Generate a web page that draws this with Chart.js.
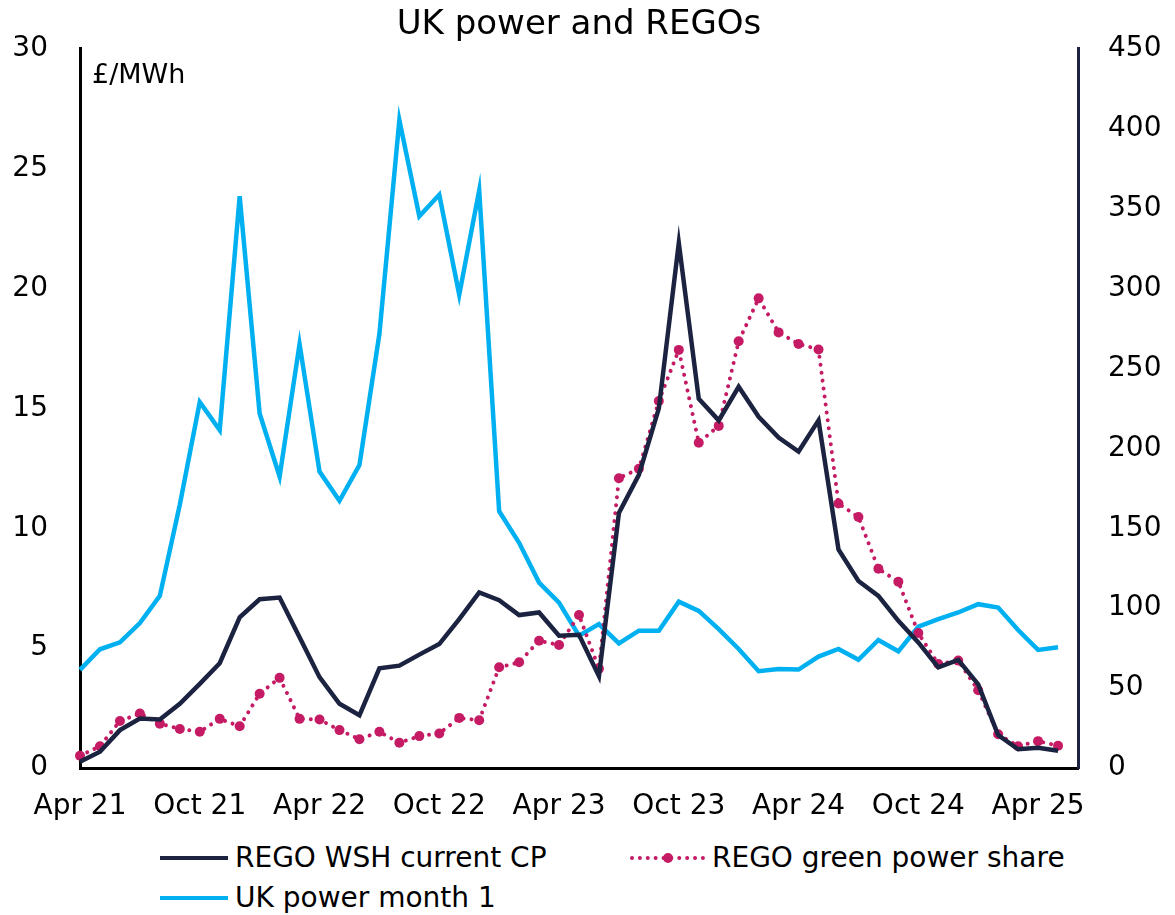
<!DOCTYPE html>
<html>
<head>
<meta charset="utf-8">
<script src="https://cdn.jsdelivr.net/npm/chart.js@4"></script>
<style>
  html, body { margin:0; padding:0; background:#fff; }
  body { width:1175px; height:915px; position:relative; overflow:hidden;
         font-family:"DejaVu Sans",sans-serif; }
  #wrap { position:absolute; left:0; top:0; width:1175px; height:835px; }
  #unit { position:absolute; left:92px; top:58px; font-size:27px; color:#000; }
  .leg { position:absolute; font-size:28px; color:#000; line-height:34px; white-space:nowrap; }
  .leg .line { position:absolute; top:15px; height:0; }
  .leg .dot { position:absolute; width:10px; height:10px; border-radius:50%; background:#c51b64; top:12px; }
</style>
</head>
<body>
<div id="wrap"><canvas id="chart"></canvas></div>
<div id="unit">£/MWh</div>
<div class="leg" style="left:160px; top:841px;">
  <span class="line" style="left:0; width:68px; border-top:4px solid #1b2340;"></span>
  <span style="margin-left:75px;">REGO WSH current CP</span>
</div>
<div class="leg" style="left:630px; top:841px;">
  <span class="line" style="left:0; width:75px; border-top:4px dotted #c51b64;"></span>
  <span class="dot" style="left:33px;"></span>
  <span style="margin-left:82px;">REGO green power share</span>
</div>
<div class="leg" style="left:160px; top:881px;">
  <span class="line" style="left:0; width:68px; border-top:4px solid #00b0f0;"></span>
  <span style="margin-left:75px;">UK power month 1</span>
</div>
<script>
// monthly categories, Apr 21 .. May 25 (plus one empty slot so the axis runs to Jun 25)
const months = ["Jan","Feb","Mar","Apr","May","Jun","Jul","Aug","Sep","Oct","Nov","Dec"];
const categories = [];
for (let i = 0; i < 51; i++) {
  const m = (3 + i) % 12;
  const y = 21 + Math.floor((3 + i) / 12);
  categories.push(months[m] + " " + y);
}

// REGO WSH current CP, £/MWh (left axis)
const regoWsh = [
  0.26, 0.68, 1.58, 2.06, 2.02, 2.68, 3.51, 4.37, 6.28, 7.04,
  7.11, 5.45, 3.79, 2.68, 2.2, 4.16, 4.27, 4.73, 5.17, 6.21,
  7.32, 7.0, 6.38, 6.49, 5.52, 5.56, 3.83, 10.64, 12.23, 15.0,
  21.9, 15.4, 14.5, 15.9, 14.65, 13.78, 13.2, 14.5, 9.12, 7.8,
  7.18, 6.14, 5.24, 4.2, 4.51, 3.49, 1.37, 0.78, 0.84, 0.72
];

// REGO green power share, £/MWh (left axis)
const regoGreen = [
  0.51, 0.91, 1.96, 2.27, 1.85, 1.63, 1.51, 2.05, 1.74, 3.1,
  3.76, 2.05, 2.02, 1.58, 1.2, 1.51, 1.05, 1.33, 1.44, 2.09,
  1.99, 4.2, 4.41, 5.31, 5.13, 6.38, 4.14, 12.09, 12.48, 15.31,
  17.44, 13.57, 14.27, 17.8, 19.59, 18.17, 17.69, 17.46, 11.03, 10.47,
  8.31, 7.77, 5.63, 4.34, 4.48, 3.24, 1.41, 0.91, 1.12, 0.93
];

// UK power month 1, £/MWh (right axis)
const ukPower = [
  61.4, 74.3, 78.6, 90.7, 107.7, 164.7, 229, 211.4, 357.7, 221.8,
  182.4, 265.3, 185.5, 167.2, 189.6, 271.6, 405.4, 345.2, 358.7, 296.1,
  361.4, 160.6, 140.9, 116, 103.5, 82.8, 90, 78, 85.9, 85.9,
  104.1, 98.3, 86.9, 74.5, 60.6, 62, 61.6, 69.7, 74.5, 67.7,
  80.1, 73, 88.4, 93.2, 97.3, 102.5, 100.4, 86.3, 73.9, 75.5
];

const leftTicks = [0, 5, 10, 15, 20, 25, 30];
const rightTicks = [0, 50, 100, 150, 200, 250, 300, 350, 400, 450];

const FONT = '"DejaVu Sans",sans-serif';
const NAVY = "#1b2340", BLUE = "#00b0f0", PINK = "#c51b64";

const ctx = document.getElementById("chart").getContext("2d");
new Chart(ctx, {
  type: "line",
  data: {
    labels: categories,
    datasets: [
      { label: "UK power month 1", data: ukPower, yAxisID: "yR",
        borderColor: BLUE, borderWidth: 4.5, pointRadius: 0, tension: 0, order: 3 },
      { label: "REGO green power share", data: regoGreen, yAxisID: "yL",
        borderColor: PINK, borderWidth: 4, borderDash: [0.01, 8], borderCapStyle: "round",
        pointRadius: 5, pointBackgroundColor: PINK, pointBorderWidth: 0, tension: 0, order: 2 },
      { label: "REGO WSH current CP", data: regoWsh, yAxisID: "yL",
        borderColor: NAVY, borderWidth: 4.5, pointRadius: 0, tension: 0, order: 1 }
    ]
  },
  options: {
    responsive: true,
    maintainAspectRatio: false,
    animation: false,
    layout: { padding: 0 },
    plugins: {
      legend: { display: false },
      tooltip: { enabled: false },
      title: { display: true, text: "UK power and REGOs", fullSize: false,
        color: "#000", font: { family: FONT, size: 34, weight: "normal", lineHeight: 1.15 },
        padding: { top: 2, bottom: 4 } }
    },
    scales: {
      x: {
        grid: { display: false, drawTicks: false },
        border: { display: true, color: "#000", width: 3 },
        ticks: { autoSkip: false, maxRotation: 0, color: "#000", padding: 22,
          font: { family: FONT, size: 28 },
          callback: (v, i) => (i % 6 === 0 && i < 50) ? categories[i] : null },
        afterFit: (s) => { s.height = 67; }
      },
      yL: {
        position: "left", min: 0, max: 30,
        grid: { display: false, drawTicks: false },
        border: { display: true, color: "#000", width: 3 },
        afterBuildTicks: (s) => { s.ticks = leftTicks.map(v => ({ value: v })); },
        ticks: { color: "#000", padding: 32, font: { family: FONT, size: 28 } },
        afterFit: (s) => { s.width = 80; }
      },
      yR: {
        position: "right", min: 0, max: 450,
        grid: { display: false, drawTicks: false },
        border: { display: true, color: NAVY, width: 3 },
        afterBuildTicks: (s) => { s.ticks = rightTicks.map(v => ({ value: v })); },
        ticks: { color: "#000", padding: 30, font: { family: FONT, size: 28 } },
        afterFit: (s) => { s.width = 97; }
      }
    }
  }
});
</script>
</body>
</html>
